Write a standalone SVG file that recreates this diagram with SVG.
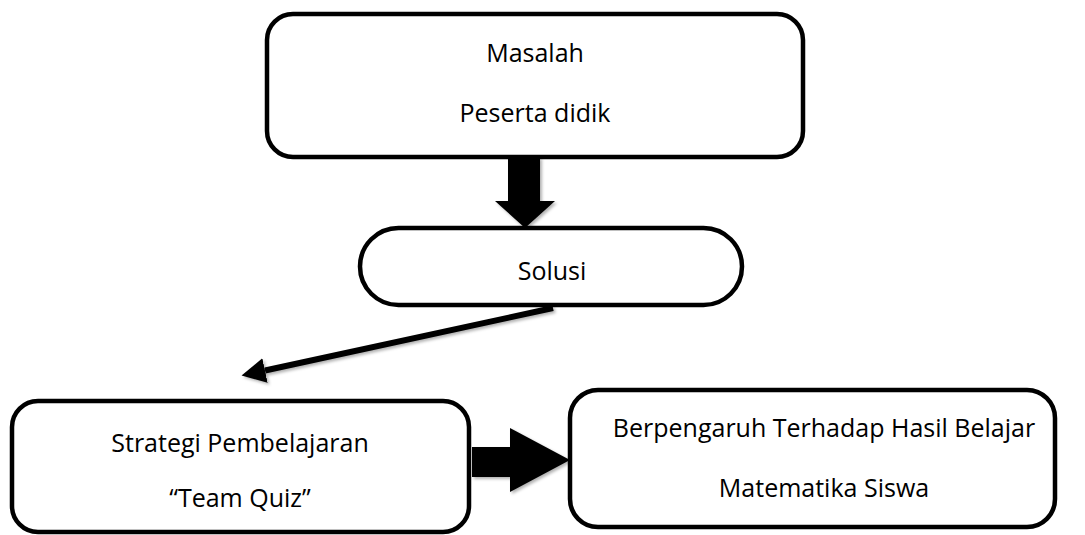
<svg xmlns="http://www.w3.org/2000/svg" width="1085" height="535" viewBox="0 0 1085 535">
  <defs>
    <style>
      .box { fill: #ffffff; stroke: #000000; stroke-width: 4.5; }
      .lbl { font-family: "Open Sans", "Noto Sans", "Liberation Sans", sans-serif; font-size: 25px; fill: #000000; text-anchor: middle; }
      .blk { fill: #000000; }
      .conn { stroke: #000000; stroke-width: 6; fill: none; }
    </style>
    <filter id="shadow" x="-20%" y="-20%" width="140%" height="140%">
      <feDropShadow dx="2" dy="2" stdDeviation="1.5" flood-color="#000000" flood-opacity="0.3"/>
    </filter>
    <marker id="head" markerUnits="userSpaceOnUse" markerWidth="26" markerHeight="26" refX="0" refY="12.5" orient="auto">
      <path d="M0,0 L24,12.5 L0,25 z" fill="#000000"/>
    </marker>
  </defs>
  <rect width="1085" height="535" fill="#ffffff"/>

  <g id="connectors" filter="url(#shadow)">
    <polygon class="blk" points="508,157 540,157 540,201 555,201 525,228 495,201 508,201"/>
    <line class="conn" x1="553" y1="308" x2="265" y2="370.5" marker-end="url(#head)"/>
    <polygon class="blk" points="472,447 510,447 510,428 570,460 510,492 510,477 472,477"/>
  </g>

  <g id="node-masalah">
    <rect class="box" x="267" y="14" width="536" height="143" rx="26" ry="26"/>
    <text class="lbl" x="535" y="62">Masalah</text>
    <text class="lbl" x="535" y="122">Peserta didik</text>
  </g>

  <g id="node-solusi">
    <rect class="box" x="360" y="228" width="382" height="77" rx="38.5" ry="38.5"/>
    <text class="lbl" x="552" y="280">Solusi</text>
  </g>

  <g id="node-strategi">
    <rect class="box" x="12" y="401" width="457" height="131" rx="26" ry="26"/>
    <text class="lbl" x="240" y="452">Strategi Pembelajaran</text>
    <text class="lbl" x="240" y="507">“Team Quiz”</text>
  </g>

  <g id="node-hasil">
    <rect class="box" x="570" y="390" width="485" height="137" rx="28" ry="28"/>
    <text class="lbl" x="824" y="437">Berpengaruh Terhadap Hasil Belajar</text>
    <text class="lbl" x="824" y="497">Matematika Siswa</text>
  </g>
</svg>
